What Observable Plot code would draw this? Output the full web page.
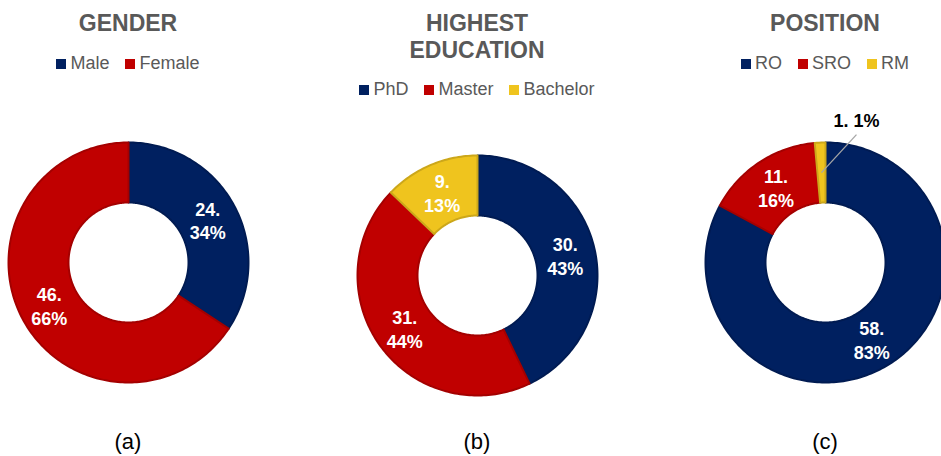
<!DOCTYPE html>
<html><head><meta charset="utf-8">
<script src="https://cdn.jsdelivr.net/npm/d3@7"></script>
<script src="https://cdn.jsdelivr.net/npm/@observablehq/plot@0.6"></script>
<style>
html,body{margin:0;padding:0;background:#fff;overflow:hidden;width:941px;height:456px;}
#root{position:relative;width:941px;height:456px;font-family:"Liberation Sans",Arial,sans-serif;}
.panel{position:absolute;top:0;width:300px;height:456px;}
.title{position:absolute;left:0;width:300px;top:10px;text-align:center;font-weight:bold;font-size:23px;line-height:27px;color:#595959;}
.legend{position:absolute;left:0;width:300px;display:flex;justify-content:center;align-items:baseline;font-size:18px;line-height:20px;color:#595959;}
.legend .item{display:inline-flex;align-items:baseline;margin:0 8px;}
.legend .sw{display:inline-block;width:10px;height:10px;margin-right:4px;}
.chart{position:absolute;left:0;}
.caption{position:absolute;left:0;width:300px;top:429px;text-align:center;font-size:22px;line-height:26px;color:#000;}
</style>
</head><body>
<div id="root"></div>
<script>
// ---- data ----
const genderLabels = ["Male", "Female"];
const genderValues = [24, 46];
const eduLabels = ["PhD", "Master", "Bachelor"];
const eduValues = [30, 31, 9];
const posLabels = ["RO", "SRO", "RM"];
const posValues = [58, 11, 1];
const titles = [["GENDER"], ["HIGHEST", "EDUCATION"], ["POSITION"]];
const captions = ["(a)", "(b)", "(c)"];
const palette = ["#002060", "#C00000", "#EFC41E"];

// ---- layout (style) ----
const panelCenters = [128, 477, 825];
const chartTops = [112, 125, 112];
const legendTops = [53, 79, 53];
const size = 300, half = 1.25, outerR = 1.0, innerR = 0.5, labelR = 0.75;
const pxPerUnit = size / (2 * half);

const panels = [
  {labels: genderLabels, values: genderValues},
  {labels: eduLabels, values: eduValues},
  {labels: posLabels, values: posValues}
];

const root = document.getElementById("root");

panels.forEach((p, i) => {
  const div = document.createElement("div");
  div.className = "panel";
  div.style.left = (panelCenters[i] - size / 2) + "px";
  root.appendChild(div);

  const t = document.createElement("div");
  t.className = "title";
  t.innerHTML = titles[i].join("<br>");
  div.appendChild(t);

  const lg = document.createElement("div");
  lg.className = "legend";
  lg.style.top = legendTops[i] + "px";
  p.labels.forEach((l, j) => {
    const it = document.createElement("span");
    it.className = "item";
    const sw = document.createElement("span");
    sw.className = "sw";
    sw.style.background = palette[j];
    it.appendChild(sw);
    it.appendChild(document.createTextNode(l));
    lg.appendChild(it);
  });
  div.appendChild(lg);

  // pie geometry from data
  const total = d3.sum(p.values);
  const arcs = d3.pie().sort(null).value(d => d)(p.values);
  const polys = [];
  const labels = [];
  const callouts = [];
  arcs.forEach((a, j) => {
    const n = Math.max(4, Math.ceil((a.endAngle - a.startAngle) / 0.02));
    const fill = palette[j];
    const stroke = d3.color(fill).darker(0.45).formatHex();
    for (let k = 0; k <= n; k++) {
      const th = a.startAngle + (a.endAngle - a.startAngle) * k / n;
      polys.push({key: p.labels[j], x: outerR * Math.sin(th), y: outerR * Math.cos(th), fill, stroke});
    }
    for (let k = n; k >= 0; k--) {
      const th = a.startAngle + (a.endAngle - a.startAngle) * k / n;
      polys.push({key: p.labels[j], x: innerR * Math.sin(th), y: innerR * Math.cos(th), fill, stroke});
    }
    const mid = (a.startAngle + a.endAngle) / 2;
    const pct = Math.round(a.value / total * 100);
    const lx = labelR * Math.sin(mid), ly = labelR * Math.cos(mid);
    if (pct < 5) {
      callouts.push({
        x: lx, y: ly,
        x2: lx + 35 / pxPerUnit, y2: ly + 38 / pxPerUnit,
        tx: lx + 35 / pxPerUnit, ty: ly + 51 / pxPerUnit,
        text: `${a.value}. ${pct}%`
      });
    } else {
      labels.push({x: lx, y: ly, text: `${a.value}.\n${pct}%`});
    }
  });

  const chart = Plot.plot({
    width: size, height: size, margin: 0,
    x: {domain: [-half, half], axis: null},
    y: {domain: [-half, half], axis: null},
    color: {type: "identity"},
    style: {fontFamily: "Liberation Sans, Arial, sans-serif", background: "transparent", overflow: "visible"},
    marks: [
      Plot.line(polys, {x: "x", y: "y", z: "key", fill: "fill", stroke: "stroke", strokeWidth: 2, curve: "linear-closed"}),
      Plot.text(labels, {x: "x", y: "y", text: "text", fill: "white", fontSize: 18, fontWeight: "bold", lineHeight: 1.33}),
      Plot.link(callouts, {x1: "x", y1: "y", x2: "x2", y2: "y2", stroke: "#A6A6A6", strokeWidth: 1.3}),
      Plot.text(callouts, {x: "tx", y: "ty", text: "text", fill: "#000", fontSize: 18, fontWeight: "bold"})
    ]
  });
  chart.classList.add("chart");
  chart.style.top = chartTops[i] + "px";
  chart.style.position = "absolute";
  chart.style.left = "0px";
  div.appendChild(chart);

  const c = document.createElement("div");
  c.className = "caption";
  c.textContent = captions[i];
  div.appendChild(c);
});
</script>
</body></html>
